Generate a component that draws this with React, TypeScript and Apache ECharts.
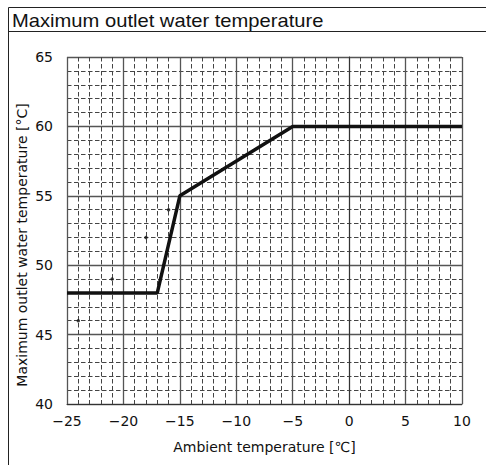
import React, { useEffect, useRef } from "react";
import * as echarts from "echarts";

const limitCurve: [number, number][] = [
  [-25, 48],
  [-17, 48],
  [-15, 55],
  [-5, 60],
  [10, 60],
];
const strayDots: [number, number][] = [
  [-24, 46],
  [-21, 49],
  [-18, 52],
  [-16, 54],
];
const xRange = { min: -25, max: 10, step: 5 };
const yRange = { min: 40, max: 65, step: 5 };
const titleText = "Maximum outlet water temperature";
const xName = "Ambient temperature [\u2103]";
const yName = "Maximum outlet water temperature [\u00b0C]";

export default function App() {
  const ref = useRef<HTMLDivElement>(null);
  useEffect(() => {
    if (!ref.current) return;
    const chart = echarts.init(ref.current, undefined, { renderer: "svg" });
    const font = "DejaVu Sans";
    chart.setOption({
      animation: false,
      backgroundColor: "#fff",
      graphic: [
        {
          type: "rect",
          shape: { x: 8.5, y: 7.5, width: 490, height: 470 },
          style: { fill: "none", stroke: "#222", lineWidth: 1 },
          silent: true,
        },
        {
          type: "line",
          shape: { x1: 8, y1: 31.5, x2: 486, y2: 31.5 },
          style: { stroke: "#222", lineWidth: 1 },
          silent: true,
        },
        {
          type: "text",
          x: 12,
          y: 12,
          scaleX: 1.12,
          style: {
            text: titleText,
            font: "18px 'Liberation Sans', Arial, sans-serif",
            fill: "#111",
          },
          silent: true,
        },
        {
          type: "text",
          x: 22,
          y: 245,
          rotation: Math.PI / 2,
          style: {
            text: yName,
            font: "14px 'DejaVu Sans'",
            fill: "#111",
            align: "center",
            verticalAlign: "middle",
          },
          silent: true,
        },
      ],
      grid: { left: 67, right: 24, top: 57, bottom: 61 },
      xAxis: {
        type: "value",
        min: xRange.min,
        max: xRange.max,
        interval: xRange.step,
        name: xName,
        nameLocation: "middle",
        nameGap: 36,
        nameTextStyle: { fontFamily: font, fontSize: 14, color: "#111" },
        axisLine: { show: true, lineStyle: { color: "#333", width: 1 } },
        axisTick: { show: false },
        axisLabel: {
          fontFamily: font,
          fontSize: 14,
          color: "#111",
          margin: 10,
          formatter: (v: number) => (v < 0 ? "\u2212" + Math.abs(v) : String(v)),
        },
        splitLine: { show: true, lineStyle: { color: "#555", width: 1.3 } },
        minorTick: { show: false, splitNumber: 5 },
        minorSplitLine: {
          show: true,
          lineStyle: { color: "#444", width: 1, type: [4.5, 2.5] },
        },
      },
      yAxis: {
        type: "value",
        min: yRange.min,
        max: yRange.max,
        interval: yRange.step,
        axisLine: { show: true, lineStyle: { color: "#333", width: 1 } },
        axisTick: { show: false },
        axisLabel: { fontFamily: font, fontSize: 14, color: "#111", margin: 14 },
        splitLine: { show: true, lineStyle: { color: "#555", width: 1.3 } },
        minorTick: { show: false, splitNumber: 5 },
        minorSplitLine: {
          show: true,
          lineStyle: { color: "#444", width: 1, type: [4.5, 2.5] },
        },
      },
      series: [
        {
          type: "line",
          data: limitCurve,
          symbol: "none",
          lineStyle: { color: "#111", width: 3.5 },
          silent: true,
        },
        {
          type: "scatter",
          data: strayDots,
          symbol: "circle",
          symbolSize: 3.5,
          itemStyle: { color: "#111" },
          silent: true,
        },
      ],
    });
    return () => chart.dispose();
  }, []);
  return <div ref={ref} style={{ width: 486, height: 465, position: "absolute", left: 0, top: 0 }} />;
}
